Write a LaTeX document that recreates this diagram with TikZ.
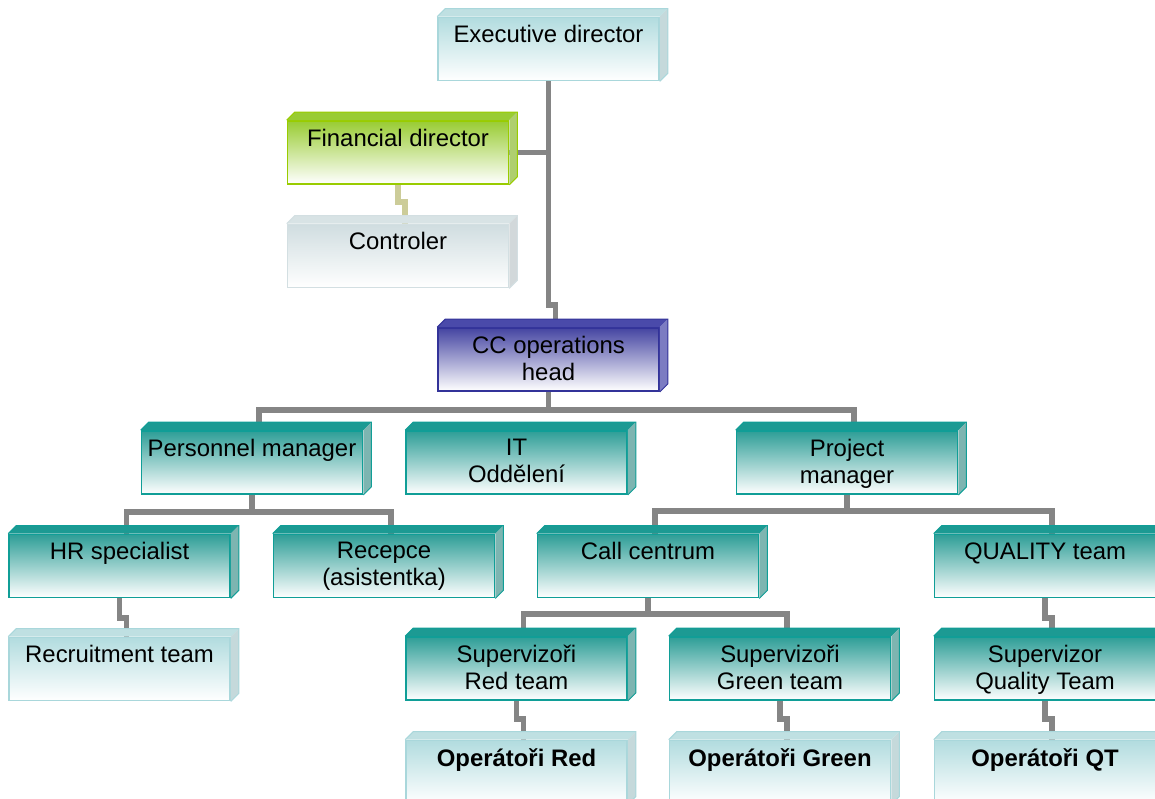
\documentclass[tikz,border=0pt]{standalone}
\usepackage{fontspec}
\setmainfont{Liberation Sans}
\usetikzlibrary{calc}

\definecolor{linegray}{HTML}{858585}
\definecolor{finlink}{HTML}{CCCC99}
% front colour, border, top face, side face for each kind of box
\definecolor{lighttop}{HTML}{B2DCDF}
\definecolor{lightline}{HTML}{A9D7DB}
\definecolor{lightlid}{HTML}{BFE0E2}
\definecolor{lightside}{HTML}{C5D9DB}
\definecolor{tealtop}{HTML}{2E9E97}
\definecolor{tealline}{HTML}{109E97}
\definecolor{teallid}{HTML}{1C9A93}
\definecolor{tealside}{HTML}{7DB5B1}
\definecolor{bluetop}{HTML}{4545A2}
\definecolor{blueline}{HTML}{333399}
\definecolor{bluelid}{HTML}{4A4AAA}
\definecolor{blueside}{HTML}{7C7CC2}
\definecolor{greentop}{HTML}{99CC33}
\definecolor{greenline}{HTML}{99CC00}
\definecolor{greenlid}{HTML}{99CC33}
\definecolor{greenside}{HTML}{AFCF6F}
\definecolor{greytop}{HTML}{D0DDE0}
\definecolor{greyline}{HTML}{D3DFE2}
\definecolor{greylid}{HTML}{D8E3E5}
\definecolor{greyside}{HTML}{D2D8DA}

\tikzset{
  orgbox/.style={draw=#1line, line width=1pt, top color=#1top,
    middle color=#1top!35!white, bottom color=white,
    inner sep=0pt, minimum width=4.42cm, minimum height=1.26cm},
  conn/.style={draw=linegray, line width=3.4pt},
}

\newcommand\boxtext[1]{\parbox[c][1.26cm][t]{4.42cm}{\centering\vspace*{4.5pt}#1\par}}
% lid and right side of a box
\newcommand\boxfaces[2]{%
  \fill[#2lid] (#1.north west) -- ++(8,-8) -- ($(#1.north east)+(8,-8)$) -- (#1.north east) -- cycle;
  \fill[#2side] (#1.north east) -- ($(#1.north east)+(8,-8)$) -- ($(#1.south east)+(8,-8)$) -- (#1.south east) -- cycle;
  \draw[#2line, line width=0.6pt] (#1.north west) -- ++(8,-8) -- ($(#1.north east)+(8,-8)$) -- ($(#1.south east)+(8,-8)$) -- (#1.south east);
}

\begin{document}
\begin{tikzpicture}[x=0.02cm, y=-0.02cm, font=\fontsize{13.6}{15.3}\selectfont]
\clip (0,0) rectangle (1155,798);

% boxes
\node[orgbox=light] (exe) at (548.5,49) {\boxtext{Executive director}};
\node[orgbox=green] (fin) at (398,152.5) {\boxtext{Financial director}};
\node[orgbox=grey] (ctl) at (398,256) {\boxtext{Controler}};
\node[orgbox=blue] (cc) at (548.5,359.5) {\boxtext{CC operations\\head}};
\node[orgbox=teal] (pers) at (252,462.5) {\boxtext{Personnel manager}};
\node[orgbox=teal] (it) at (516.5,462.5) {\boxtext{IT\\Oddělení}};
\node[orgbox=teal] (pm) at (847,462.5) {\boxtext{Project\\manager}};
\node[orgbox=teal] (hr) at (119.5,566) {\boxtext{HR specialist}};
\node[orgbox=teal] (rec) at (384,566) {\boxtext{Recepce\\(asistentka)}};
\node[orgbox=teal] (call) at (648,566) {\boxtext{Call centrum}};
\node[orgbox=teal] (qual) at (1045,566) {\boxtext{QUALITY team}};
\node[orgbox=light] (recr) at (119.5,669) {\boxtext{Recruitment team}};
\node[orgbox=teal] (sred) at (516.5,668.5) {\boxtext{Supervizoři\\Red team}};
\node[orgbox=teal] (sgreen) at (780,668.5) {\boxtext{Supervizoři\\Green team}};
\node[orgbox=teal] (squal) at (1045,668.5) {\boxtext{Supervizor\\Quality Team}};
\node[orgbox=light] (ored) at (516.5,772) {\boxtext{\textbf{Operátoři Red}}};
\node[orgbox=light] (ogreen) at (780,772) {\boxtext{\textbf{Operátoři Green}}};
\node[orgbox=light] (oqt) at (1045,772) {\boxtext{\textbf{Operátoři QT}}};

% connectors
\draw[conn] (exe.south) -- ++(0,224) -| ($(cc.north)+(7,0)$);
\draw[conn] (fin.east) -- (fin.east -| exe.south);
\draw[conn, draw=finlink] (fin.south) -- ++(0,17) -| ($(ctl.north)+(7,0)$);

\coordinate (ccbus) at (548.5,410);
\draw[conn] (cc.south) -- (ccbus);
\draw[conn] ($(pers.north)+(7,0)$) |- (ccbus) -| ($(pm.north)+(7,0)$);
\draw[conn] ($(it.north)+(7,0)$) -- ($(it.north)+(7,0)$ |- ccbus);

\coordinate (persbus) at (252,512);
\draw[conn] (pers.south) -- (persbus);
\draw[conn] ($(hr.north)+(7,0)$) |- (persbus) -| ($(rec.north)+(7,0)$);

\coordinate (pmbus) at (847,511);
\draw[conn] (pm.south) -- (pmbus);
\draw[conn] ($(call.north)+(7,0)$) |- (pmbus) -| ($(qual.north)+(7,0)$);

\coordinate (callbus) at (648,614);
\draw[conn] (call.south) -- (callbus);
\draw[conn] ($(sred.north)+(7,0)$) |- (callbus) -| ($(sgreen.north)+(7,0)$);

\draw[conn] (hr.south) -- ++(0,20) -| ($(recr.north)+(7,0)$);
\draw[conn] (qual.south) -- ++(0,20) -| ($(squal.north)+(7,0)$);
\draw[conn] (sred.south) -- ++(0,18) -| ($(ored.north)+(7,0)$);
\draw[conn] (sgreen.south) -- ++(0,18) -| ($(ogreen.north)+(7,0)$);
\draw[conn] (squal.south) -- ++(0,18) -| ($(oqt.north)+(7,0)$);

% 3d faces
\boxfaces{exe}{light}
\boxfaces{fin}{green}
\boxfaces{ctl}{grey}
\boxfaces{cc}{blue}
\foreach \n in {pers,it,pm,hr,rec,call,qual,sred,sgreen,squal}
  {\boxfaces{\n}{teal}}
\foreach \n in {recr,ored,ogreen,oqt}
  {\boxfaces{\n}{light}}

\end{tikzpicture}
\end{document}
